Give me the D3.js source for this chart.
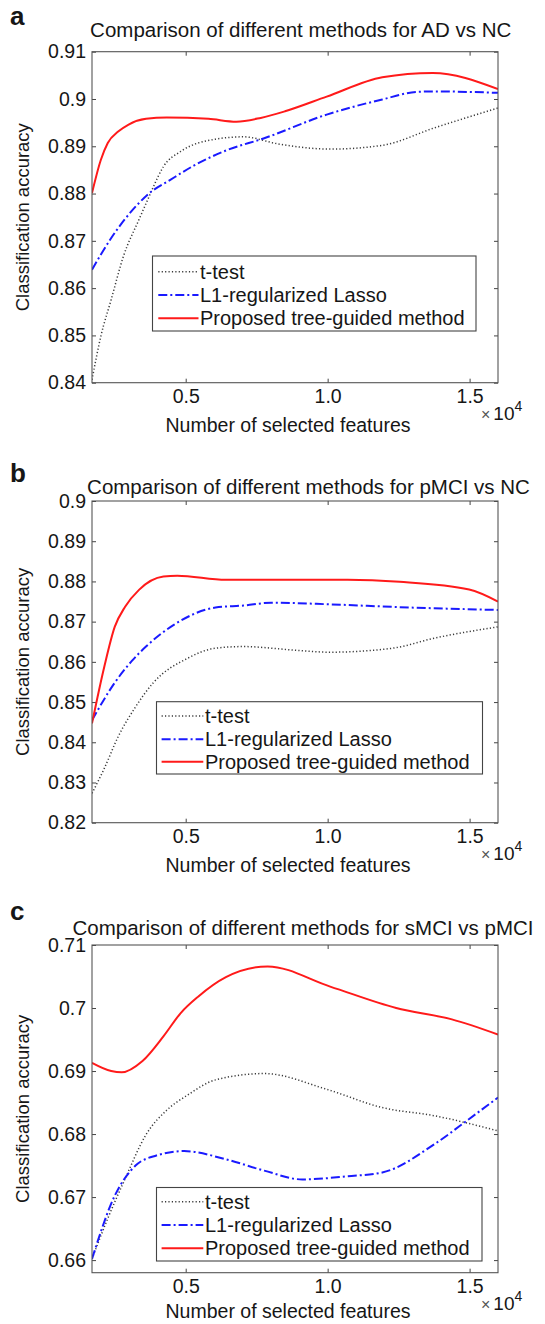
<!DOCTYPE html>
<html><head><meta charset="utf-8">
<script src="https://cdn.jsdelivr.net/npm/d3@7"></script>
<style>
body{margin:0;background:#fff}
svg{display:block;background:#fff}
text{font-family:"Liberation Sans",Arial,Helvetica,sans-serif;fill:#161616}
</style>
</head><body>
<svg id="chart" width="545" height="1324"></svg>
<script>
// ---------------- data ----------------
const seriesNames = ["t-test", "L1-regularized Lasso", "Proposed tree-guided method"];
const panelLetters = ["a", "b", "c"];
const panelTitles = [
  "Comparison of different methods for AD vs NC",
  "Comparison of different methods for pMCI vs NC",
  "Comparison of different methods for sMCI vs pMCI"
];
const xDomain = [1700, 16000];
const xTickValues = [5000, 10000, 15000];
const xTickLabels = ["0.5", "1.0", "1.5"];

const aYDomain = [0.84, 0.91];
const aYTicks = [0.84, 0.85, 0.86, 0.87, 0.88, 0.89, 0.90, 0.91];
const bYDomain = [0.82, 0.90];
const bYTicks = [0.82, 0.83, 0.84, 0.85, 0.86, 0.87, 0.88, 0.89, 0.90];
const cYDomain = [0.658, 0.71];
const cYTicks = [0.66, 0.67, 0.68, 0.69, 0.70, 0.71];

// panel a: AD vs NC  [number of features, accuracy]
const aTtest = [[1700,0.8406],[2010,0.8498],[2377,0.8576],[2805,0.8667],[3355,0.8745],[3662,0.8787],[3845,0.8812],[4215,0.8857],[4824,0.8889],[6050,0.8915],[7029,0.8920],[8255,0.8905],[10089,0.8894],[11924,0.8902],[13763,0.8939],[16000,0.8981]];
const aLasso = [[1700,0.8639],[2377,0.8706],[3355,0.8780],[3725,0.8801],[4458,0.8829],[5314,0.8860],[6416,0.8891],[7765,0.8917],[9966,0.8967],[11924,0.8999],[13150,0.9015],[13763,0.9016],[16000,0.9013]];
const aTree = [[1700,0.8801],[2010,0.8871],[2255,0.8907],[2622,0.8931],[2989,0.8946],[3602,0.8958],[4335,0.8961],[5803,0.8958],[6786,0.8952],[7642,0.8960],[8497,0.8974],[9966,0.9005],[11924,0.9046],[13700,0.9055],[16000,0.9021]];

// panel b: pMCI vs NC
const bTtest = [[1700,0.8273],[2133,0.8335],[2622,0.8414],[3234,0.8488],[3845,0.8547],[5071,0.8609],[6050,0.8634],[7029,0.8638],[8864,0.8629],[10089,0.8624],[12294,0.8634],[13763,0.8659],[16000,0.8687]];
const bLasso = [[1700,0.8455],[2500,0.8548],[3112,0.8603],[3602,0.8638],[4581,0.8692],[6050,0.8735],[7029,0.8740],[8008,0.8747],[10089,0.8743],[12537,0.8736],[16000,0.8729]];
const bTree = [[1700,0.8447],[2133,0.8588],[2500,0.8687],[2866,0.8737],[3355,0.8779],[4215,0.8812],[4704,0.8814],[6416,0.8804],[8255,0.8804],[10702,0.8804],[12537,0.8799],[14985,0.8780],[16000,0.8750]];

// panel c: sMCI vs pMCI
const cTtest = [[1700,0.6602],[2255,0.6666],[2866,0.6729],[3602,0.6799],[4335,0.6838],[5071,0.6862],[6050,0.6886],[7765,0.6896],[9966,0.6871],[11924,0.6842],[13763,0.6829],[16000,0.6805]];
const cLasso = [[1700,0.6602],[2500,0.6702],[3234,0.6750],[3968,0.6766],[4947,0.6773],[6416,0.6760],[7765,0.6742],[9110,0.6728],[10702,0.6733],[11924,0.6739],[13763,0.6784],[14985,0.6824],[16000,0.6858]];
const cTree = [[1700,0.6913],[2377,0.6900],[2745,0.6898],[3479,0.6916],[4215,0.6955],[4824,0.6992],[5437,0.7018],[6416,0.7049],[7885,0.7066],[10089,0.7034],[12414,0.7000],[14376,0.6982],[16000,0.6958]];

// ---------------- layout / style ----------------
const styles = [
  {stroke:"#3a3a3a", width:1.5, dash:"1.2,2.2"},
  {stroke:"#1a1aff", width:2, dash:"9,3,2,3"},
  {stroke:"#ff1a1a", width:2, dash:null}
];
const panels = [
  {yDomain:aYDomain, yTicks:aYTicks, series:[aTtest,aLasso,aTree], top:51.7, bottom:382.7, xlab:49,
   titleY:37.3, titleX:300.7, letterY:25, legend:{x0:152.5, x1:476, y0:256, rows:[271.7,295,318.3], y1:331, lx0:158.3, lx1:198.5, tx:200}},
  {yDomain:bYDomain, yTicks:bYTicks, series:[bTtest,bLasso,bTree], top:501, bottom:822.7, xlab:49,
   titleY:494, titleX:308.5, letterY:481.7, legend:{x0:156.5, x1:482.5, y0:701.7, rows:[716,739.3,761.7], y1:774, lx0:161.6, lx1:203.3, tx:205}},
  {yDomain:cYDomain, yTicks:cYTicks, series:[cTtest,cLasso,cTree], top:945, bottom:1272.7, xlab:45.5,
   titleY:935, titleX:303, letterY:920, legend:{x0:156.5, x1:482, y0:1187.5, rows:[1201.7,1225,1248.3], y1:1261, lx0:161.6, lx1:203.3, tx:205}}
];
const L = 92, R = 498;

const svg = d3.select("#chart");
svg.append("rect").attr("width",545).attr("height",1324).attr("fill","#fff");

const fmtY = v => String(+v.toFixed(2));

panels.forEach((p, i) => {
  const g = svg.append("g");
  const x = d3.scaleLinear().domain(xDomain).range([L, R]);
  const y = d3.scaleLinear().domain(p.yDomain).range([p.bottom, p.top]);

  const clipId = "clip" + i;
  g.append("clipPath").attr("id", clipId).append("rect")
    .attr("x", L).attr("y", p.top - 2).attr("width", R - L).attr("height", p.bottom - p.top + 2);

  // axes with inward ticks
  const axB = g.append("g").attr("transform", `translate(0,${p.bottom})`)
    .call(d3.axisBottom(x).tickValues(xTickValues).tickSize(-4).tickPadding(6.5)
      .tickFormat((d, k) => xTickLabels[k]));
  const axT = g.append("g").attr("transform", `translate(0,${p.top})`)
    .call(d3.axisTop(x).tickValues(xTickValues).tickSize(-4).tickFormat(""));
  const axL = g.append("g").attr("transform", `translate(${L},0)`)
    .call(d3.axisLeft(y).tickValues(p.yTicks).tickSize(-4).tickPadding(6).tickFormat(fmtY));
  const axR = g.append("g").attr("transform", `translate(${R},0)`)
    .call(d3.axisRight(y).tickValues(p.yTicks).tickSize(-4).tickFormat(""));
  [axB, axT, axL, axR].forEach(a => {
    a.select(".domain").remove();
    a.selectAll("line").attr("stroke", "#444").attr("stroke-width", 1);
    a.selectAll("text").attr("font-size", 19.5).attr("fill", "#161616")
      .attr("font-family", '"Liberation Sans",Arial,sans-serif');
  });

  // lines
  const line = d3.line().x(d => x(d[0])).y(d => y(d[1])).curve(d3.curveMonotoneX);
  p.series.forEach((s, k) => {
    const st = styles[k];
    g.append("path").datum(s).attr("d", line).attr("fill", "none")
      .attr("clip-path", `url(#${clipId})`)
      .attr("stroke", st.stroke).attr("stroke-width", st.width)
      .attr("stroke-dasharray", st.dash).attr("stroke-linejoin", "round");
  });

  // box
  g.append("rect").attr("x", L).attr("y", p.top).attr("width", R - L).attr("height", p.bottom - p.top)
    .attr("fill", "none").attr("stroke", "#555").attr("stroke-width", 1.1);

  // legend
  const lg = p.legend;
  g.append("rect").attr("x", lg.x0).attr("y", lg.y0).attr("width", lg.x1 - lg.x0).attr("height", lg.y1 - lg.y0)
    .attr("fill", "#fff").attr("stroke", "#444").attr("stroke-width", 1.1);
  seriesNames.forEach((name, k) => {
    const st = styles[k];
    g.append("line").attr("x1", lg.lx0).attr("x2", lg.lx1).attr("y1", lg.rows[k]).attr("y2", lg.rows[k])
      .attr("stroke", st.stroke).attr("stroke-width", st.width).attr("stroke-dasharray", st.dash);
    g.append("text").attr("x", lg.tx).attr("y", lg.rows[k]).attr("dy", "0.35em")
      .attr("font-size", 20).text(name);
  });

  // title
  g.append("text").attr("x", p.titleX).attr("y", p.titleY).attr("text-anchor", "middle")
    .attr("font-size", 20.5).text(panelTitles[i]);
  // panel letter
  g.append("text").attr("x", 10).attr("y", p.letterY).attr("font-size", 26).attr("font-weight", "bold")
    .attr("fill", "#000").text(panelLetters[i]);
  // y label
  g.append("text").attr("transform", `translate(29,${(p.top + p.bottom) / 2}) rotate(-90)`)
    .attr("text-anchor", "middle").attr("font-size", 18.5).text("Classification accuracy");
  // x label
  g.append("text").attr("x", 288).attr("y", p.bottom + p.xlab).attr("text-anchor", "middle")
    .attr("font-size", 19.5).text("Number of selected features");
  // exponent
  const ex = g.append("text").attr("x", 481).attr("y", p.bottom + 37).attr("font-size", 19);
  ex.append("tspan").attr("font-size", 16).attr("fill", "#555").text("×");
  ex.append("tspan").attr("dx", 3).text("10");
  ex.append("tspan").attr("font-size", 14).attr("dy", -9).text("4");
});
</script>
</body></html>
